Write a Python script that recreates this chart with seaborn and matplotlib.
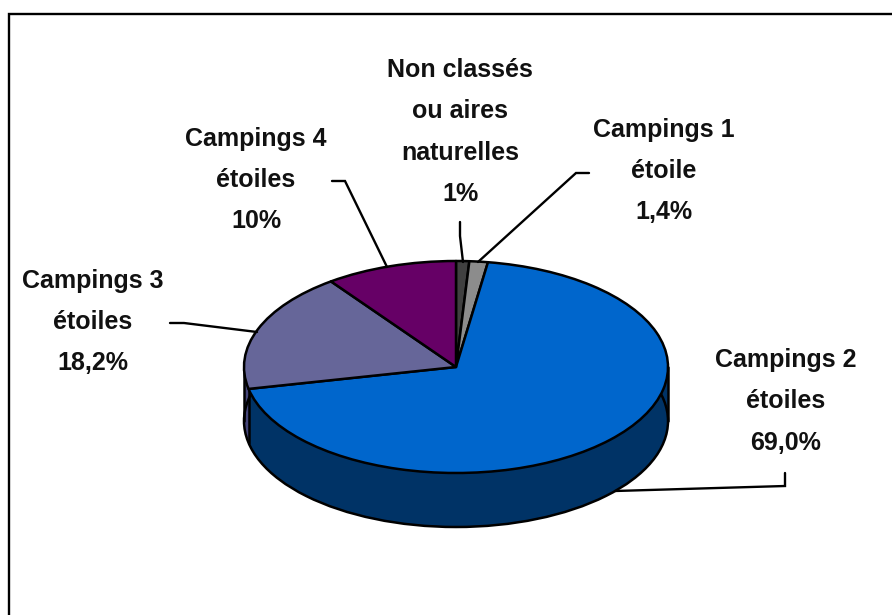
import numpy as np
import matplotlib
matplotlib.use("Agg")
import matplotlib.pyplot as plt
from matplotlib.patches import Ellipse
import seaborn as sns

labels = ["Non classés\nou aires\nnaturelles\n1%", "Campings 1\nétoile\n1,4%",
          "Campings 2\nétoiles\n69,0%", "Campings 3\nétoiles\n18,2%",
          "Campings 4\nétoiles\n10%"]
values = [1.0, 1.4, 69.0, 18.2, 10.0]
top_colors = ["#404040", "#8C8C8C", "#0066CC", "#666699", "#660066"]
side_colors = ["#262626", "#555555", "#003366", "#46467A", "#3C003C"]

W, H = 892, 615
CX, CY, RX, RY, DEPTH = 456, 367, 212, 106, 54

sns.set_theme(style="white")
plt.rcParams["font.family"] = ["Liberation Sans", "DejaVu Sans"]

fig = plt.figure(figsize=(W / 100, H / 100), dpi=100, facecolor="white")
ax = fig.add_axes([0, 0, 1, 1])
d = DEPTH / RY

side_pal = sns.color_palette(side_colors)
top_pal = sns.color_palette(top_colors)

# extruded side, built from stacked pies
for off in np.linspace(d, 0, 80):
    ax.pie(values, colors=side_pal, startangle=90, counterclock=False, radius=1,
           center=(0, -off), wedgeprops=dict(linewidth=0.4, edgecolor="none"))
ax.pie(values, colors=top_pal, startangle=90, counterclock=False, radius=1,
       center=(0, 0), wedgeprops=dict(linewidth=0, edgecolor="none"))

lw = 1.8
ax.add_patch(Ellipse((0, -d), 2, 2, fill=False, edgecolor="black", lw=lw, zorder=5))
ax.plot([-1, -1], [0, -d], color="black", lw=lw, zorder=5)
ax.plot([1, 1], [0, -d], color="black", lw=lw, zorder=5)
ax.pie(values, colors=top_pal, startangle=90, counterclock=False, radius=1,
       center=(0, 0), wedgeprops=dict(linewidth=lw, edgecolor="black", zorder=6,
                                      joinstyle="round"))

# vertical edge at the visible slice boundary on the side
frac = (values[0] + values[1] + values[2]) / sum(values)
a = 2 * np.pi * frac
ax.plot([np.sin(a)] * 2, [np.cos(a), np.cos(a) - d], color="black", lw=lw, zorder=5)

ax.set_aspect("auto")
ax.set_xlim((0 - CX) / RX, (W - CX) / RX)
ax.set_ylim((CY - H) / RY, CY / RY)
ax.axis("off")

ov = fig.add_axes([0, 0, 1, 1], facecolor="none")
ov.set_xlim(0, W)
ov.set_ylim(H, 0)
ov.axis("off")

ov.plot([9, 9, W], [H, 14, 14], color="black", lw=1.7, solid_joinstyle="miter")

label_pos = [(460, 132), (664, 171), (786, 401.5), (93, 322), (256, 180)]
for (x, y), s in zip(label_pos, labels):
    ov.text(x, y, s, ha="center", va="center", fontsize=18, fontweight="bold",
            color="#111111", linespacing=1.9)

leaders = [
    [(460, 222), (460, 236), (463, 262)],
    [(589, 173), (576, 173), (478, 262)],
    [(785, 473), (785, 486), (615, 491)],
    [(170, 323), (184, 323), (257, 332)],
    [(332, 181), (345, 181), (387, 267)],
]
for pts in leaders:
    xs, ys = zip(*pts)
    ov.plot(xs, ys, color="black", lw=1.7, solid_joinstyle="miter")

fig.savefig("out.png", dpi=100, facecolor="white")
